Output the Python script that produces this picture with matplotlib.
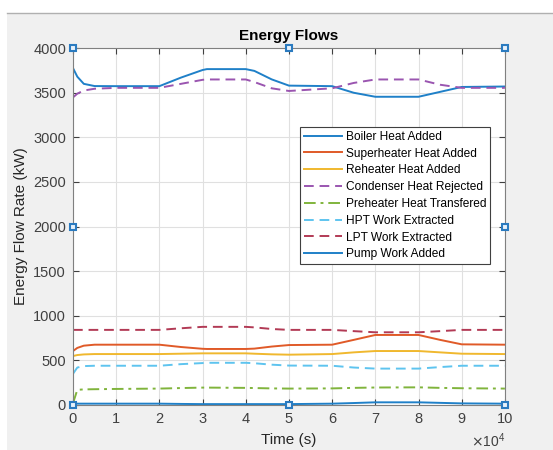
import numpy as np
import matplotlib
matplotlib.use("Agg")
import matplotlib.pyplot as plt
from matplotlib.ticker import FuncFormatter
from matplotlib.patches import Rectangle

plt.rcParams['font.family'] = ['Liberation Sans', 'DejaVu Sans']

# time knots (s)
t = np.array([0, 0.1, 0.25, 0.5, 1, 2, 2.5, 3, 3.1, 4, 4.2, 4.6, 5, 6, 6.5, 7, 8, 8.5, 9, 10]) * 1e4

boiler = [3776, 3680, 3600, 3575, 3574, 3574, 3670, 3755, 3765, 3765, 3745, 3650, 3580, 3574, 3500, 3455, 3455, 3510, 3565, 3570]
superheater = [605, 640, 665, 676, 676, 676, 650, 630, 628, 628, 632, 655, 672, 676, 730, 785, 785, 730, 680, 676]
reheater = [549, 560, 567, 571, 571, 571, 575, 579, 579, 579, 575, 568, 564, 571, 590, 605, 605, 590, 575, 571]
condenser = [3448, 3490, 3525, 3545, 3555, 3555, 3600, 3645, 3649, 3649, 3620, 3550, 3520, 3550, 3610, 3649, 3649, 3590, 3555, 3555]
preheater = [20, 170, 175, 177, 180, 184, 190, 195, 195, 192, 190, 186, 184, 186, 192, 196, 198, 192, 188, 184]
hpt = [350, 420, 436, 440, 440, 440, 458, 470, 473, 473, 468, 452, 442, 440, 420, 408, 408, 425, 440, 440]
lpt = [842, 842, 842, 842, 842, 842, 860, 876, 876, 876, 870, 852, 842, 842, 828, 815, 815, 828, 842, 842]
pump = [15, 15, 15, 15, 15, 15, 12, 10, 10, 10, 10, 10, 10, 15, 22, 30, 30, 24, 18, 15]

labels = ['Boiler Heat Added', 'Superheater Heat Added', 'Reheater Heat Added',
          'Condenser Heat Rejected', 'Preheater Heat Transfered', 'HPT Work Extracted',
          'LPT Work Extracted', 'Pump Work Added']

fig = plt.figure(figsize=(5.53, 4.5), dpi=100, facecolor='#f0f0f0')
ax = fig.add_axes([0.132, 0.1, 0.781, 0.793])

# window chrome at top/left
fig.patches.append(Rectangle((0, 1 - 13/450), 1, 13/450, transform=fig.transFigure,
                             facecolor='white', edgecolor='none', zorder=0))
fig.patches.append(Rectangle((0, 0), 7/553, 1, transform=fig.transFigure,
                             facecolor='white', edgecolor='none', zorder=0))
fig.add_artist(plt.Line2D([7/553, 1], [1 - 13/450]*2, color='#b0b0b0', lw=1))

dash = (0, (5, 3))
ax.plot(t, boiler, color='#1f80c8', lw=1.4, label=labels[0])
ax.plot(t, superheater, color='#e05a28', lw=1.4, label=labels[1])
ax.plot(t, reheater, color='#f0b82e', lw=1.4, label=labels[2])
ax.plot(t, condenser, color='#9a55b0', lw=1.4, ls=dash, label=labels[3])
ax.plot(t, preheater, color='#80b43c', lw=1.4, ls=(0, (6, 2.5, 1.5, 2.5)), label=labels[4])
ax.plot(t, hpt, color='#5ec4ef', lw=1.4, ls=dash, label=labels[5])
ax.plot(t, lpt, color='#b23a55', lw=1.4, ls=dash, label=labels[6])
ax.plot(t, pump, color='#1f80c8', lw=1.4, label=labels[7])

ax.set_xlim(0, 1e5)
ax.set_ylim(0, 4000)
ax.set_xticks(np.arange(0, 100001, 10000))
ax.set_yticks(np.arange(0, 4001, 500))
ax.xaxis.set_major_formatter(FuncFormatter(lambda v, p: '%d' % round(v / 1e4)))
ax.text(1.0, -0.075, r'$\times\mathregular{10^4}$', transform=ax.transAxes,
        ha='right', va='top', fontsize=10, color='#404040')

ax.grid(True, color='#e0e0e0', lw=0.8)
ax.set_axisbelow(True)
ax.tick_params(direction='in', length=4, colors='#404040', labelsize=10.5,
               top=True, right=True, pad=5)
for s in ax.spines.values():
    s.set_color('#808080')

ax.set_title('Energy Flows', fontsize=11, fontweight='bold', pad=6)
ax.set_xlabel('Time (s)', fontsize=11, color='#262626', labelpad=5)
ax.set_ylabel('Energy Flow Rate (kW)', fontsize=11, color='#262626', labelpad=4)

leg = ax.legend(loc='upper left', bbox_to_anchor=(0.525, 0.78), fontsize=8.6,
                fancybox=False, framealpha=1, edgecolor='#404040',
                handlelength=3.2, handletextpad=0.3, labelspacing=0.4,
                borderpad=0.35, borderaxespad=0)
leg.get_frame().set_linewidth(0.8)

# selection handles on the axes box
hx = [0, 0.5, 1, 0, 1, 0, 0.5, 1]
hy = [1, 1, 1, 0.5, 0.5, 0, 0, 0]
ax.plot(hx, hy, 's', transform=ax.transAxes, ms=5, mfc='#e8f2fb', mec='#2b7bc0',
        mew=1.5, clip_on=False, zorder=5)

fig.savefig('out.png', dpi=100, facecolor=fig.get_facecolor())
